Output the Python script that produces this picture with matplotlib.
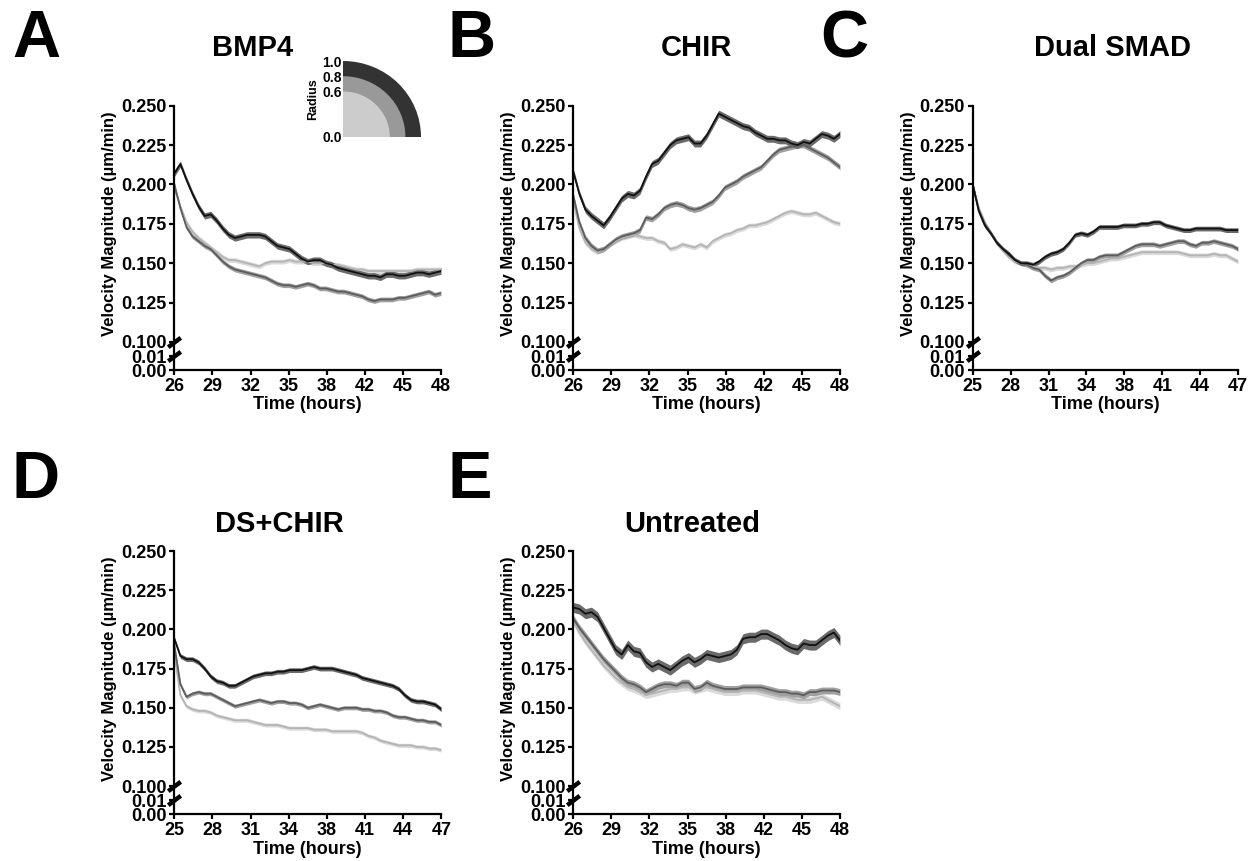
import numpy as np
import matplotlib

matplotlib.use("Agg")
import matplotlib.pyplot as plt
from matplotlib.patches import Wedge

plt.rcParams["font.family"] = ["Liberation Sans", "DejaVu Sans"]
plt.rcParams["font.weight"] = "bold"

# time grids (hours), 0.5 h steps
hours_26 = np.arange(26.0, 48.01, 0.5)
hours_25 = np.arange(25.0, 47.01, 0.5)

ticklabels_26 = ["26", "29", "32", "35", "38", "42", "45", "48"]
ticklabels_25 = ["25", "28", "31", "34", "38", "41", "44", "47"]

# radius bins: outer (1.0), middle (0.8), inner (0.6)
radius_edges = [1.0, 0.8, 0.6]

# ---- BMP4 ----
bmp4_outer = [0.207, 0.213, 0.203, 0.194, 0.186, 0.180, 0.181, 0.177, 0.172, 0.168,
              0.166, 0.167, 0.168, 0.168, 0.168, 0.167, 0.164, 0.161, 0.160, 0.159,
              0.156, 0.153, 0.151, 0.152, 0.152, 0.150, 0.149, 0.147, 0.146, 0.145,
              0.144, 0.143, 0.142, 0.142, 0.141, 0.143, 0.143, 0.142, 0.142, 0.143,
              0.144, 0.144, 0.143, 0.144, 0.145]
bmp4_middle = [0.200, 0.185, 0.173, 0.167, 0.164, 0.161, 0.159, 0.155, 0.151, 0.148,
               0.146, 0.145, 0.144, 0.143, 0.142, 0.141, 0.139, 0.137, 0.136, 0.136,
               0.135, 0.136, 0.137, 0.136, 0.134, 0.134, 0.133, 0.132, 0.132, 0.131,
               0.130, 0.129, 0.127, 0.126, 0.127, 0.127, 0.127, 0.128, 0.128, 0.129,
               0.130, 0.131, 0.132, 0.130, 0.131]
bmp4_inner = [0.198, 0.186, 0.176, 0.170, 0.166, 0.163, 0.160, 0.157, 0.154, 0.152,
              0.152, 0.151, 0.150, 0.149, 0.148, 0.150, 0.151, 0.151, 0.151, 0.152,
              0.151, 0.151, 0.151, 0.150, 0.150, 0.150, 0.149, 0.149, 0.148, 0.147,
              0.146, 0.146, 0.145, 0.145, 0.145, 0.145, 0.145, 0.145, 0.145, 0.145,
              0.146, 0.146, 0.146, 0.146, 0.146]

# ---- CHIR ----
chir_outer = [0.208, 0.194, 0.184, 0.180, 0.177, 0.174, 0.179, 0.185, 0.191, 0.194,
              0.193, 0.196, 0.205, 0.213, 0.215, 0.220, 0.225, 0.228, 0.229, 0.230,
              0.226, 0.226, 0.231, 0.238, 0.245, 0.243, 0.241, 0.239, 0.237, 0.236,
              0.233, 0.231, 0.229, 0.229, 0.228, 0.228, 0.226, 0.225, 0.227, 0.226,
              0.229, 0.232, 0.231, 0.229, 0.232]
chir_middle = [0.193, 0.176, 0.166, 0.161, 0.158, 0.159, 0.162, 0.165, 0.167, 0.168,
               0.169, 0.171, 0.179, 0.178, 0.181, 0.185, 0.187, 0.188, 0.187, 0.185,
               0.184, 0.185, 0.187, 0.189, 0.193, 0.198, 0.200, 0.202, 0.205, 0.207,
               0.209, 0.211, 0.215, 0.219, 0.222, 0.223, 0.224, 0.225, 0.225, 0.223,
               0.221, 0.219, 0.217, 0.214, 0.211]
chir_inner = [0.190, 0.172, 0.163, 0.159, 0.157, 0.159, 0.162, 0.164, 0.166, 0.167,
              0.168, 0.167, 0.166, 0.166, 0.164, 0.163, 0.159, 0.160, 0.162, 0.161,
              0.160, 0.162, 0.160, 0.164, 0.166, 0.168, 0.169, 0.171, 0.172, 0.174,
              0.174, 0.175, 0.176, 0.178, 0.180, 0.182, 0.183, 0.182, 0.181, 0.181,
              0.182, 0.180, 0.178, 0.176, 0.175]

# ---- Dual SMAD ----
dsmad_outer = [0.200, 0.183, 0.174, 0.169, 0.163, 0.159, 0.156, 0.152, 0.150, 0.150,
               0.149, 0.151, 0.154, 0.156, 0.157, 0.159, 0.163, 0.168, 0.169, 0.168,
               0.170, 0.173, 0.173, 0.173, 0.173, 0.174, 0.174, 0.174, 0.175, 0.175,
               0.176, 0.176, 0.174, 0.173, 0.172, 0.171, 0.171, 0.172, 0.172, 0.172,
               0.172, 0.172, 0.171, 0.171, 0.171]
dsmad_middle = [0.200, 0.184, 0.175, 0.169, 0.163, 0.159, 0.155, 0.152, 0.150, 0.149,
                0.147, 0.146, 0.142, 0.139, 0.141, 0.142, 0.144, 0.147, 0.150, 0.152,
                0.152, 0.154, 0.155, 0.155, 0.155, 0.157, 0.159, 0.161, 0.162, 0.162,
                0.162, 0.161, 0.162, 0.163, 0.164, 0.164, 0.162, 0.161, 0.163, 0.163,
                0.164, 0.163, 0.162, 0.161, 0.159]
dsmad_inner = [0.199, 0.185, 0.176, 0.169, 0.163, 0.158, 0.154, 0.151, 0.150, 0.149,
               0.148, 0.147, 0.147, 0.146, 0.147, 0.147, 0.148, 0.148, 0.149, 0.150,
               0.150, 0.151, 0.152, 0.153, 0.153, 0.154, 0.155, 0.156, 0.157, 0.157,
               0.157, 0.157, 0.157, 0.157, 0.157, 0.156, 0.155, 0.155, 0.155, 0.155,
               0.156, 0.155, 0.155, 0.153, 0.151]

# ---- DS+CHIR ----
dschir_outer = [0.194, 0.183, 0.181, 0.181, 0.179, 0.175, 0.170, 0.167, 0.166, 0.164,
                0.164, 0.166, 0.168, 0.170, 0.171, 0.172, 0.172, 0.173, 0.173, 0.174,
                0.174, 0.174, 0.175, 0.176, 0.175, 0.175, 0.175, 0.174, 0.173, 0.172,
                0.171, 0.169, 0.168, 0.167, 0.166, 0.165, 0.164, 0.162, 0.158, 0.155,
                0.154, 0.154, 0.153, 0.152, 0.149]
dschir_middle = [0.190, 0.165, 0.157, 0.159, 0.160, 0.159, 0.159, 0.157, 0.155, 0.153,
                 0.151, 0.152, 0.153, 0.154, 0.155, 0.154, 0.153, 0.154, 0.154, 0.153,
                 0.153, 0.152, 0.150, 0.151, 0.152, 0.151, 0.150, 0.149, 0.150, 0.150,
                 0.150, 0.149, 0.149, 0.148, 0.148, 0.147, 0.145, 0.144, 0.144, 0.143,
                 0.142, 0.142, 0.141, 0.141, 0.139]
dschir_inner = [0.185, 0.158, 0.151, 0.149, 0.148, 0.148, 0.147, 0.145, 0.144, 0.143,
                0.142, 0.142, 0.142, 0.141, 0.140, 0.139, 0.139, 0.139, 0.138, 0.137,
                0.137, 0.137, 0.137, 0.136, 0.136, 0.136, 0.135, 0.135, 0.135, 0.135,
                0.135, 0.134, 0.132, 0.131, 0.129, 0.128, 0.127, 0.126, 0.126, 0.126,
                0.125, 0.125, 0.124, 0.124, 0.123]

# ---- Untreated ----
untr_outer = [0.214, 0.213, 0.210, 0.211, 0.208, 0.201, 0.194, 0.187, 0.184, 0.190,
              0.186, 0.185, 0.179, 0.176, 0.178, 0.176, 0.174, 0.177, 0.180, 0.182,
              0.179, 0.181, 0.184, 0.183, 0.182, 0.183, 0.184, 0.187, 0.194, 0.195,
              0.195, 0.197, 0.197, 0.195, 0.193, 0.190, 0.188, 0.187, 0.191, 0.190,
              0.190, 0.193, 0.196, 0.198, 0.193]
untr_middle = [0.207, 0.201, 0.196, 0.191, 0.186, 0.181, 0.177, 0.173, 0.169, 0.166,
               0.165, 0.163, 0.160, 0.162, 0.164, 0.165, 0.165, 0.164, 0.166, 0.166,
               0.162, 0.163, 0.166, 0.164, 0.163, 0.162, 0.162, 0.162, 0.163, 0.163,
               0.163, 0.163, 0.162, 0.161, 0.160, 0.160, 0.159, 0.159, 0.158, 0.160,
               0.160, 0.161, 0.161, 0.161, 0.160]
untr_inner = [0.205, 0.198, 0.192, 0.187, 0.182, 0.177, 0.173, 0.169, 0.166, 0.163,
              0.162, 0.160, 0.158, 0.159, 0.160, 0.161, 0.162, 0.162, 0.163, 0.163,
              0.161, 0.162, 0.163, 0.162, 0.161, 0.160, 0.160, 0.160, 0.161, 0.161,
              0.161, 0.160, 0.159, 0.158, 0.157, 0.157, 0.156, 0.155, 0.155, 0.155,
              0.156, 0.157, 0.155, 0.153, 0.151]

# SEM half-widths (outer, middle, inner) per panel
sem_bmp4 = [0.0020, 0.0015, 0.0015]
sem_chir = [0.0022, 0.0018, 0.0015]
sem_dsmad = [0.0015, 0.0015, 0.0015]
sem_dschir = [0.0015, 0.0013, 0.0013]
sem_untr = [0.0032, 0.0022, 0.0022]

line_colors = ["#111111", "#5c5c5c", "#b4b4b4"]
band_colors = ["#6a6a6a", "#a0a0a0", "#dadada"]
wedge_colors = ["#333333", "#999999", "#cccccc"]

GAP = 0.009


def fwd(y):
    y = np.asarray(y, dtype=float)
    return np.where(y >= 0.1, y,
                    np.where(y >= 0.01, 0.1 - (0.1 - y) * (GAP / 0.09),
                             0.1 - GAP - (0.01 - y) * (GAP / 0.01)))


def inv(u):
    u = np.asarray(u, dtype=float)
    return np.where(u >= 0.1, u,
                    np.where(u >= 0.1 - GAP, 0.1 - (0.1 - u) * (0.09 / GAP),
                             0.01 - (0.1 - GAP - u) * (0.01 / GAP)))


def draw_panel(fig, rect, hours, series, sems, xlabels):
    ax = fig.add_axes(rect)
    ax.set_yscale("function", functions=(fwd, inv))
    for k in (2, 1, 0):
        vals = np.array(series[k])
        ax.fill_between(hours, vals - sems[k], vals + sems[k], color=band_colors[k], lw=0)
        ax.plot(hours, vals, color=line_colors[k], lw=1.3)
    ax.set_xlim(hours[0], hours[-1])
    ax.set_ylim(0, 0.25)
    ax.set_xticks(np.linspace(hours[0], hours[-1], len(xlabels)))
    ax.set_xticklabels(xlabels)
    yt = [0, 0.01, 0.1, 0.125, 0.15, 0.175, 0.2, 0.225, 0.25]
    ax.set_yticks(yt)
    ax.set_yticklabels(["0.00", "0.01", "0.100", "0.125", "0.150", "0.175", "0.200", "0.225", "0.250"])
    ax.minorticks_off()
    for s in ("top", "right"):
        ax.spines[s].set_visible(False)
    for s in ("left", "bottom"):
        ax.spines[s].set_linewidth(1.6)
    ax.tick_params(width=1.6, length=3.6, labelsize=13, pad=2)
    ax.set_xlabel("Time (hours)", fontsize=13, fontweight="bold", labelpad=1)
    ax.set_ylabel("Velocity Magnitude (\u00b5m/min)", fontsize=12, fontweight="bold")
    ax.yaxis.set_label_coords(-0.215, 0.555)
    # axis break marks
    ax.plot([0, 0], [0.1, 0.01], transform=ax.get_yaxis_transform(), ls="none",
            marker=[(-1, -0.75), (1, 0.75)], markersize=9, markeredgewidth=3.2,
            color="black", clip_on=False, zorder=5)
    return ax


fig = plt.figure(figsize=(12.55, 8.61), dpi=100)

top_h = 264.6 / 861
bot_h = 263.3 / 861
draw_panel(fig, [0.1389, 0.5699, 0.2125, top_h], hours_26,
           [bmp4_outer, bmp4_middle, bmp4_inner], sem_bmp4, ticklabels_26)
draw_panel(fig, [0.4568, 0.5699, 0.2125, top_h], hours_26,
           [chir_outer, chir_middle, chir_inner], sem_chir, ticklabels_26)
draw_panel(fig, [0.7751, 0.5699, 0.2114, top_h], hours_25,
           [dsmad_outer, dsmad_middle, dsmad_inner], sem_dsmad, ticklabels_25)
draw_panel(fig, [0.1389, 0.0542, 0.2127, bot_h], hours_25,
           [dschir_outer, dschir_middle, dschir_inner], sem_dschir, ticklabels_25)
draw_panel(fig, [0.4568, 0.0542, 0.2125, bot_h], hours_26,
           [untr_outer, untr_middle, untr_inner], sem_untr, ticklabels_26)

# titles
titles = [("BMP4", 253, 56.5), ("CHIR", 696, 56.5), ("Dual SMAD", 1113, 56.5),
          ("DS+CHIR", 279, 531.5), ("Untreated", 692, 531.5)]
for text, px, py in titles:
    fig.text(px / 1255, 1 - py / 861, text, ha="center", va="baseline",
             fontsize=21, fontweight="bold")

# panel letters
letters = [("A", 12, 57), ("B", 447, 57), ("C", 820, 57), ("D", 12, 498), ("E", 447, 498)]
for text, px, py in letters:
    fig.text(px / 1255, 1 - py / 861, text, ha="left", va="baseline",
             fontsize=48, fontweight="bold")

# radius legend (quarter disc)
lax = fig.add_axes([343 / 1255, 1 - 137 / 861, 78 / 1255, 76 / 861])
for r, c in zip(radius_edges, wedge_colors):
    lax.add_patch(Wedge((0, 0), r, 0, 90, color=c, lw=0))
lax.set_xlim(0, 1)
lax.set_ylim(0, 1)
for s in lax.spines.values():
    s.set_visible(False)
lax.set_xticks([])
lax.set_yticks([0.0, 0.6, 0.8, 1.0])
lax.set_yticklabels(["0.0", "0.6", "0.8", "1.0"])
lax.tick_params(length=0, labelsize=10, pad=1)
lax.set_ylabel("Radius", fontsize=9, fontweight="bold", labelpad=2)

fig.savefig("out.png", dpi=100)
